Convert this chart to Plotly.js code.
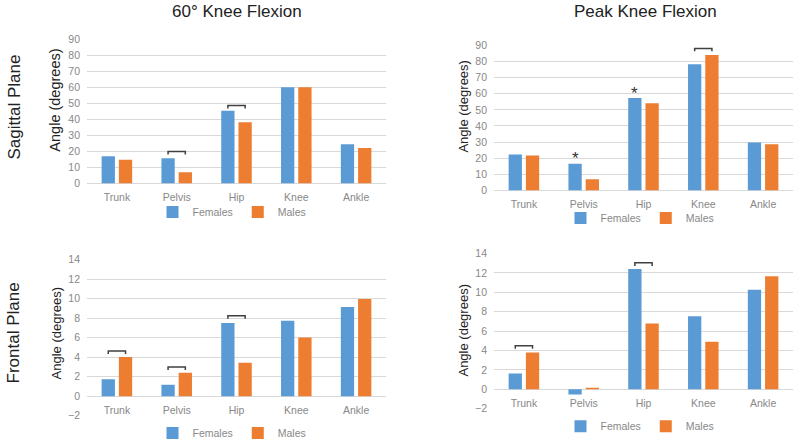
<!DOCTYPE html>
<html>
<head>
<meta charset="utf-8">
<script src="https://cdn.plot.ly/plotly-3.0.1.min.js"></script>
<style>
  html, body { margin: 0; padding: 0; background: #fff; }
  #plot { width: 800px; height: 448px; }
</style>
</head>
<body>
<div id="plot"></div>
<script>
const CATS = ['Trunk', 'Pelvis', 'Hip', 'Knee', 'Ankle'];
const SERIES = ['Females', 'Males'];

// angles in degrees
const sag60F = [17.0, 15.8, 45.4, 60.2, 24.6];
const sag60M = [14.8, 7.0, 38.2, 60.2, 22.2];
const sagPkF = [22.3, 16.6, 57.4, 78.3, 29.7];
const sagPkM = [21.7, 7.0, 54.1, 84.0, 28.7];
const frn60F = [1.73, 1.18, 7.51, 7.75, 9.14];
const frn60M = [4.03, 2.40, 3.42, 6.02, 9.98];
const frnPkF = [1.63, -0.54, 12.4, 7.53, 10.27];
const frnPkM = [3.80, 0.17, 6.78, 4.92, 11.66];

// significance marks: [category, height]
const sag60Brk = [['Pelvis', 20.0], ['Hip', 48.7]];
const sagPkBrk = [['Knee', 88.1]];
const frn60Brk = [['Trunk', 4.64], ['Pelvis', 3.0], ['Hip', 8.26]];
const frnPkBrk = [['Trunk', 4.5], ['Hip', 13.05]];
const sagPkStar = [['Pelvis', 22.3], ['Hip', 62.7]];

const COLORS = ['#5b9bd5', '#ed7d31'];
const FONT = 'Liberation Sans, Arial, sans-serif';
const BARGAP = 0.423, GROUPGAP = 0.23;
const HALF = (1 - BARGAP) / 4;

const W = 800, H = 448;
const px = v => v / W;
const py = v => 1 - v / H;

const panels = [
  { f: sag60F, m: sag60M, brk: sag60Brk, stars: [], n: '', xd: [87, 386], yd: [186, 40], range: [0, 90], dtick: 10, leg: [232, 215] },
  { f: sagPkF, m: sagPkM, brk: sagPkBrk, stars: sagPkStar, n: '2', xd: [494, 793], yd: [193, 46], range: [0, 90], dtick: 10, leg: [640, 221] },
  { f: frn60F, m: frn60M, brk: frn60Brk, stars: [], n: '3', xd: [87, 386], yd: [421.3, 263.3], range: [-2, 14], dtick: 2, leg: [232, 439] },
  { f: frnPkF, m: frnPkM, brk: frnPkBrk, stars: [], n: '4', xd: [494, 793], yd: [414.3, 257], range: [-2, 14], dtick: 2, leg: [640, 432] }
];

const traces = [];
const shapes = [];
const annotations = [];
const layout = {
  width: W, height: H,
  margin: { l: 0, r: 0, t: 0, b: 0 },
  paper_bgcolor: '#ffffff',
  plot_bgcolor: '#ffffff',
  font: { family: FONT, size: 10, color: '#888888' },
  barmode: 'group',
  bargap: BARGAP,
  bargroupgap: GROUPGAP,
  showlegend: true
};

panels.forEach(p => {
  const xa = 'x' + p.n, ya = 'y' + p.n;
  const legKey = 'legend' + p.n;
  [p.f, p.m].forEach((vals, k) => {
    traces.push({
      type: 'bar', x: CATS, y: vals, name: SERIES[k],
      xaxis: xa, yaxis: ya, legend: legKey,
      marker: { color: COLORS[k] },
      hoverinfo: 'skip'
    });
  });

  const yDom = [py(p.yd[0]), py(p.yd[1])];
  const zeroPos = yDom[0] + (0 - p.range[0]) / (p.range[1] - p.range[0]) * (yDom[1] - yDom[0]);

  layout['xaxis' + p.n] = {
    domain: [px(p.xd[0]), px(p.xd[1])],
    anchor: p.range[0] < 0 ? 'free' : ya,
    position: zeroPos,
    type: 'category',
    showgrid: false, showline: false, zeroline: false,
    ticks: '', ticklabelstandoff: 6,
    tickfont: { size: 10.5, color: '#888888' },
    fixedrange: true
  };
  layout['yaxis' + p.n] = {
    domain: yDom,
    anchor: xa,
    range: p.range, dtick: p.dtick,
    showgrid: true, gridcolor: '#d9d9d9', gridwidth: 1,
    zeroline: true, zerolinecolor: '#d9d9d9', zerolinewidth: 1,
    showline: false, ticks: '',
    ticklabelstandoff: 6,
    tickfont: { size: 10.5, color: '#888888' },
    fixedrange: true
  };
  layout[legKey] = {
    orientation: 'h',
    x: px(p.leg[0]), y: py(p.leg[1]),
    xanchor: 'center', yanchor: 'middle',
    font: { size: 10.5, color: '#888888' },
    bgcolor: 'rgba(0,0,0,0)',
    itemwidth: 30
  };

  const drop = (p.range[1] - p.range[0]) * 0.02;
  p.brk.forEach(([cat, h]) => {
    const i = CATS.indexOf(cat);
    const x0 = i - HALF, x1 = i + HALF;
    shapes.push({
      type: 'path', xref: xa, yref: ya,
      path: `M${x0},${h - drop} L${x0},${h} L${x1},${h} L${x1},${h - drop}`,
      line: { color: '#404040', width: 1.5 }
    });
  });
  p.stars.forEach(([cat, h]) => {
    annotations.push({
      xref: xa, yref: ya, x: CATS.indexOf(cat) - HALF, y: h,
      text: '*', showarrow: false, yanchor: 'middle', yshift: -4,
      font: { size: 17, color: '#333333', family: FONT }
    });
  });
});

// titles and labels
const texts = [
  { t: '60° Knee Flexion', x: 237, y: 12, size: 17, angle: 0 },
  { t: 'Peak Knee Flexion', x: 645, y: 12, size: 17, angle: 0 },
  { t: 'Sagittal Plane', x: 15, y: 109, size: 17, angle: -90 },
  { t: 'Frontal Plane', x: 13, y: 338, size: 17, angle: -90 },
  { t: 'Angle (degrees)', x: 55, y: 102, size: 14.5, angle: -90 },
  { t: 'Angle (degrees)', x: 464, y: 107, size: 13, angle: -90 },
  { t: 'Angle (degrees)', x: 56, y: 338, size: 13, angle: -90 },
  { t: 'Angle (degrees)', x: 464, y: 334, size: 13, angle: -90 }
];
texts.forEach(o => {
  annotations.push({
    xref: 'paper', yref: 'paper', x: px(o.x), y: py(o.y),
    xanchor: 'center', yanchor: 'middle', showarrow: false,
    text: o.t, textangle: o.angle,
    font: { size: o.size, color: '#222222', family: FONT }
  });
});

layout.shapes = shapes;
layout.annotations = annotations;

Plotly.newPlot('plot', traces, layout, { displayModeBar: false, staticPlot: true });
</script>
</body>
</html>
